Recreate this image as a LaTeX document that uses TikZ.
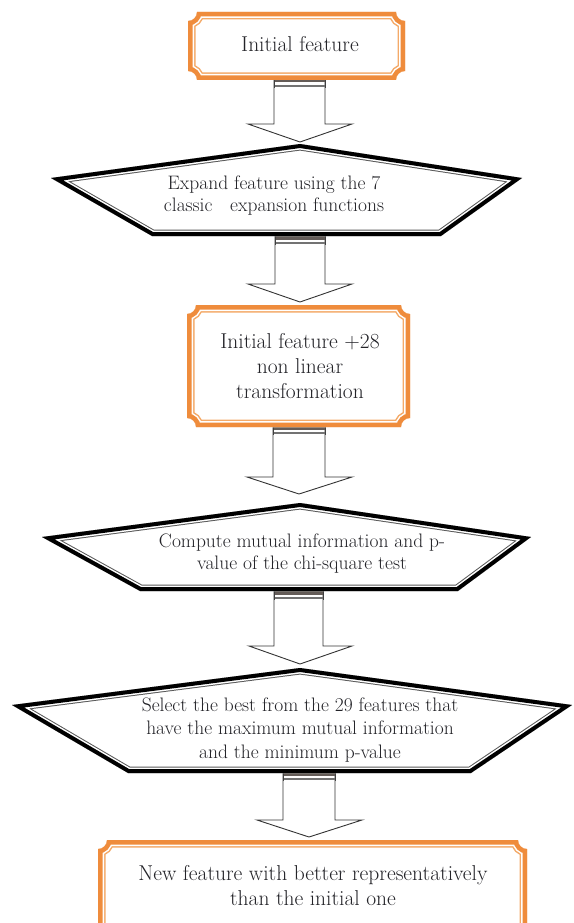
\documentclass[tikz,border=0pt]{standalone}
\usepackage{fontspec}
\setmainfont{Latin Modern Roman}
\definecolor{orA}{RGB}{239,140,60}
\definecolor{orB}{RGB}{244,170,105}
\definecolor{txtc}{RGB}{35,35,40}
\definecolor{bard}{RGB}{100,92,88}
% plaque path with concave corners: x1 y1 x2 y2 r options
\newcommand\pq[6]{\path[#6] (#1+#5,#2) -- (#3-#5,#2)
  .. controls (#3-#5,#2+0.55*#5) and (#3-0.55*#5,#2+#5) .. (#3,#2+#5)
  -- (#3,#4-#5)
  .. controls (#3-0.55*#5,#4-#5) and (#3-#5,#4-0.55*#5) .. (#3-#5,#4)
  -- (#1+#5,#4)
  .. controls (#1+#5,#4-0.55*#5) and (#1+0.55*#5,#4-#5) .. (#1,#4-#5)
  -- (#1,#2+#5)
  .. controls (#1+0.55*#5,#2+#5) and (#1+#5,#2+0.55*#5) .. (#1+#5,#2) -- cycle;}
\newcommand\plaque[5]{\begin{scope}
  \pq{#1}{#2}{#3}{#4}{#5}{clip}
  \pq{#1}{#2}{#3}{#4}{#5}{fill=white}
  \pq{#1}{#2}{#3}{#4}{#5}{draw=orB,line width=15pt}
  \pq{#1}{#2}{#3}{#4}{#5}{draw=white,line width=12pt}
  \pq{#1}{#2}{#3}{#4}{#5}{draw=orA,line width=9pt}
  \end{scope}}
% pentagon: top, right, bottom-right, bottom-left, left
\newcommand\pp[6]{\path[#6] (#1) -- (#2) -- (#3) -- (#4) -- (#5) -- cycle;}
\newcommand\penta[5]{\begin{scope}
  \pp{#1}{#2}{#3}{#4}{#5}{clip}
  \pp{#1}{#2}{#3}{#4}{#5}{fill=white}
  \pp{#1}{#2}{#3}{#4}{#5}{draw=black!65,line width=13pt,line join=miter}
  \pp{#1}{#2}{#3}{#4}{#5}{draw=white,line width=11pt,line join=miter}
  \pp{#1}{#2}{#3}{#4}{#5}{draw=black,line width=8pt,line join=miter}
  \end{scope}}
% block arrow: xl xr top winglevel wl wr tipx tipy
\newcommand\barrow[8]{%
  \draw[arrline] (#1,#3) -- (#1,#4) -- (#5,#4) -- (#7,#8) -- (#6,#4) -- (#2,#4) -- (#2,#3);
  \fill[bard] (#1,#3) rectangle (#2,#3+3.5);
  \draw[black!55,line width=1.6pt] (#1,#3+7) -- (#2,#3+7);
  \draw[black!75,line width=0.8pt] (#1,#3) -- (#1,#3+9) (#2,#3) -- (#2,#3+9);}
\tikzset{
  arrline/.style={draw=black!80,line width=0.9pt,fill=white,line join=miter},
  txt/.style={text=txtc,align=center,inner sep=0pt,font=\fontsize{21.5}{25}\selectfont},
  txtb/.style={text=txtc,align=center,inner sep=0pt,font=\fontsize{19.5}{22}\selectfont},
  txtc/.style={text=txtc,align=center,inner sep=0pt,font=\fontsize{19.5}{23.5}\selectfont}
}
\begin{document}
\begin{tikzpicture}[x=1pt,y=-1pt]
\useasboundingbox (0,0) rectangle (573,923);
\clip (0,0) rectangle (573,923);
\fill[white] (0,0) rectangle (573,923);

% arrows (drawn first, shapes overlap)
\barrow{274}{325}{79}{124}{248}{352}{300}{142}
\barrow{275}{325}{236}{284}{248}{352}{300}{302}
\barrow{273}{325}{426}{477}{247}{352}{299}{494}
\barrow{274}{323}{591}{646}{249}{352}{300}{664}
\barrow{283}{335}{772}{820}{257}{362}{309}{837}

% shapes
\plaque{188}{12}{405}{80}{9}
\penta{300,144}{522,178}{441,236}{152,236}{51,178}
\plaque{187}{305}{410}{427}{9}
\penta{300,503}{531,537}{458,591}{140,591}{42,537}
\penta{300,668}{572,705}{471,773}{128,773}{12,705}
\plaque{98}{840}{527}{940}{9}

% texts
\node[txt] (n1) at (300,44) {Initial feature};
\node[txtb] (n2) at (274,196) {Expand feature using the 7\\classic\ \ \ expansion functions};
\node[txt] (n3) at (300,366) {Initial feature +28\\non linear\\transformation};
\node[txtb] (n4) at (302,554) {Compute mutual information and p-\\value of the chi-square test};
\node[txtc] (n5) at (300,730) {Select the best from the 29 features that\\have the maximum mutual information\\and the minimum p-value};
\node[txt] (n6) at (313,886) {New feature with better representatively\\than the initial one};
\end{tikzpicture}
\end{document}
